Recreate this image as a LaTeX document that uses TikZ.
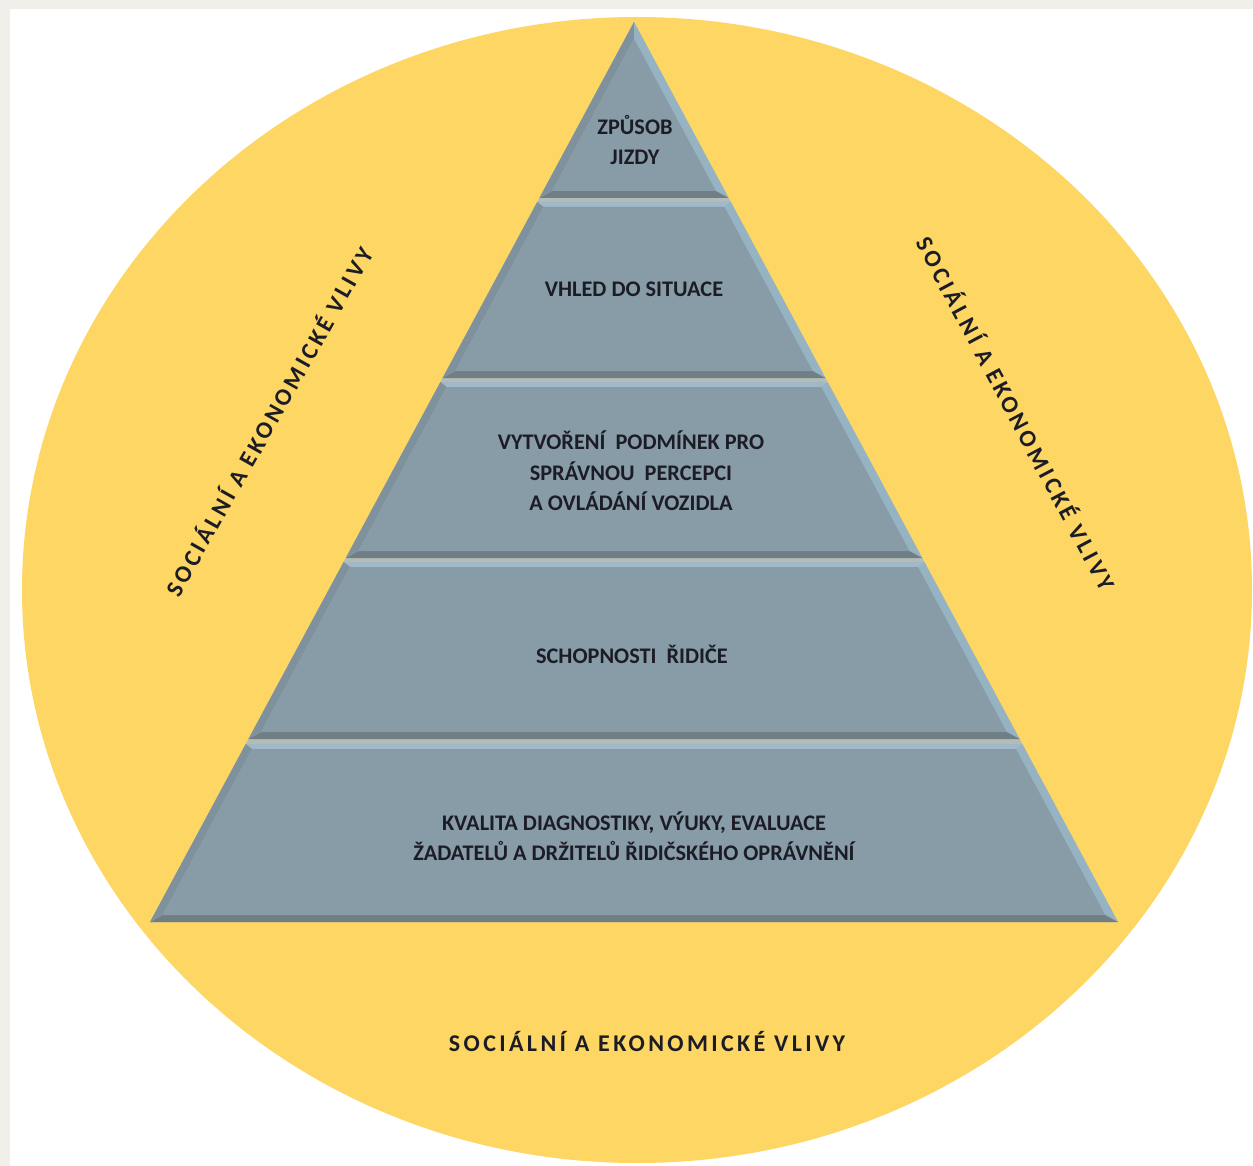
\documentclass[tikz,border=0pt]{standalone}
\usepackage{fontspec}
\setmainfont{Carlito}
\newfontfamily\lblfont{Carlito}[LetterSpace=14]
\definecolor{frame}{HTML}{F1EFEA}
\definecolor{sun}{HTML}{FDD663}
\definecolor{gapc}{HTML}{B4BCB6}
\definecolor{facec}{HTML}{889CA7}
\definecolor{topc}{HTML}{A0B8C8}
\definecolor{rightc}{HTML}{96B3C4}
\definecolor{botc}{HTML}{707E86}
\definecolor{leftc}{HTML}{7E919C}
\definecolor{ink}{HTML}{1C1C26}
\newcommand\pyrlayer[3]{%
  \pgfmathsetmacro\wt{0.53778*(#1-22)}%
  \pgfmathsetmacro\wb{0.53778*(#2-22)}%
  \pgfmathsetmacro\wti{max(0,0.53778*(#3-22)-9)}%
  \pgfmathsetmacro\ybi{#2-7}%
  \pgfmathsetmacro\wbi{0.53778*(#2-7-22)-9}%
  \coordinate (TL) at (634-\wt,#1);
  \coordinate (TR) at (634+\wt,#1);
  \coordinate (BL) at (634-\wb,#2);
  \coordinate (BR) at (634+\wb,#2);
  \coordinate (TLi) at (634-\wti,#3);
  \coordinate (TRi) at (634+\wti,#3);
  \coordinate (BLi) at (634-\wbi,\ybi);
  \coordinate (BRi) at (634+\wbi,\ybi);
  \fill[topc] (TL) -- (TR) -- (TRi) -- (TLi) -- cycle;
  \fill[rightc] (TR) -- (BR) -- (BRi) -- (TRi) -- cycle;
  \fill[botc] (BL) -- (BR) -- (BRi) -- (BLi) -- cycle;
  \fill[leftc] (TL) -- (BL) -- (BLi) -- (TLi) -- cycle;
  \fill[facec] (TLi) -- (TRi) -- (BRi) -- (BLi) -- cycle;
}
\tikzset{
  lay/.style={text=ink, align=center, font=\bfseries\fontsize{22.3}{30.5}\selectfont},
  vliv/.style={text=ink, font=\lblfont\bfseries\fontsize{24}{28}\selectfont}
}
\begin{document}
\begin{tikzpicture}[x=1pt,y=-1pt]
\useasboundingbox (0,0) rectangle (1253,1166);
\fill[white] (0,0) rectangle (1253,1166);
\fill[frame] (0,0) rectangle (1253,9);
\fill[frame] (0,0) rectangle (10,1166);
\fill[sun] (637,590) ellipse [x radius=615, y radius=573];
\fill[gapc] (634,22) -- (1118,922) -- (150,922) -- cycle;
\pyrlayer{22}{198}{39}
\pyrlayer{202}{378}{207}
\pyrlayer{382}{558}{387}
\pyrlayer{562}{739}{567}
\pyrlayer{744}{922}{749}
\node[lay] (l1) at (635,140) {ZPŮSOB\\JIZDY};
\node[lay] (l2) at (634,289) {VHLED DO SITUACE};
\node[lay] (l3) at (631,471) {VYTVOŘENÍ\ \ PODMÍNEK PRO\\SPRÁVNOU\ \ PERCEPCI\\A OVLÁDÁNÍ VOZIDLA};
\node[lay] (l4) at (632,654) {SCHOPNOSTI\ \ ŘIDIČE};
\node[lay] (l5) at (634,836) {KVALITA DIAGNOSTIKY, VÝUKY, EVALUACE\\ŽADATELŮ A DRŽITELŮ ŘIDIČSKÉHO OPRÁVNĚNÍ};
\node[vliv] (vb) at (647,1041) {SOCIÁLNÍ A EKONOMICKÉ VLIVY};
\node[vliv, rotate=60.5] (vl) at (268,421) {SOCIÁLNÍ A EKONOMICKÉ VLIVY};
\node[vliv, rotate=-62] (vr) at (1017,413) {SOCIÁLNÍ A EKONOMICKÉ VLIVY};
\end{tikzpicture}
\end{document}
